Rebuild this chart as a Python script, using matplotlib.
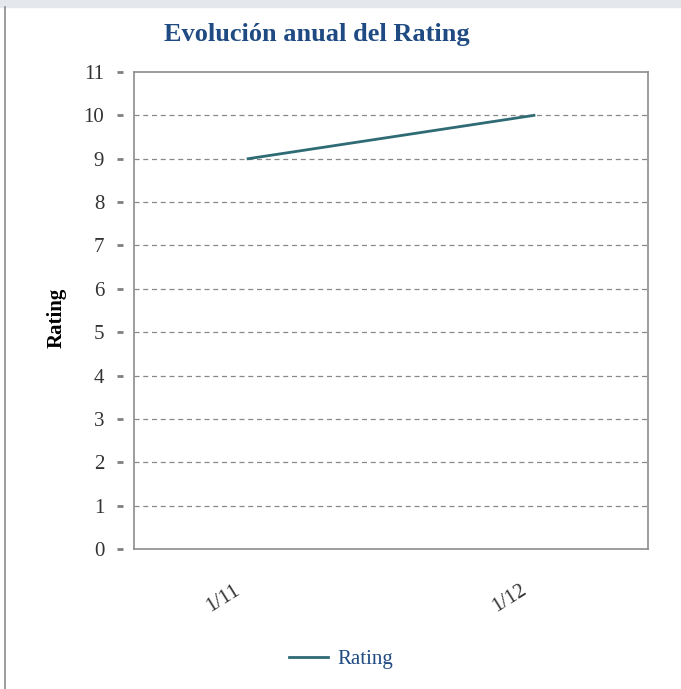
import matplotlib.pyplot as plt
from matplotlib.transforms import blended_transform_factory, ScaledTranslation
from matplotlib.patches import Rectangle
from matplotlib.lines import Line2D

plt.rcParams['font.family'] = ['Liberation Serif', 'DejaVu Serif']

periods = ['1/11', '1/12']
rating = [9, 10]
yticks = list(range(0, 12))

line_col = '#2e6b74'
title_col = '#1f4b82'

fig = plt.figure(figsize=(6.81, 6.89), dpi=100)
# top band and left border of the panel
fig.patches.append(Rectangle((0, 1 - 7/689), 1, 7/689, transform=fig.transFigure,
                             color='#e4e8ec', zorder=0))
fig.add_artist(Line2D([4.5/681, 4.5/681], [0, 1 - 7/689], transform=fig.transFigure,
                      color='#8a8a8a', lw=1.2))

ax = fig.add_axes([134/681, 1 - 549/689, 514/681, 477/689])
x = range(len(periods))
ax.plot(x, rating, color=line_col, lw=2, label='Rating')

ax.set_xlim(-0.399, 1.399)
ax.set_ylim(0, 11)
ax.set_yticks(yticks)
ax.set_xticks(list(x))
ax.set_xticklabels(periods, rotation=32, ha='center', va='center', rotation_mode='anchor')
ax.tick_params(axis='y', length=0, pad=21.5, labelsize=15, labelcolor='#333333')
ax.tick_params(axis='x', length=0, pad=35.5, labelsize=15, labelcolor='#333333')
for lab in ax.get_xticklabels():
    lab.set_transform(lab.get_transform() + ScaledTranslation(-0.25, 0, fig.dpi_scale_trans))

for yv in yticks[1:-1]:
    ax.axhline(yv, color='#888888', lw=0.9, ls=(0, (4, 3)), zorder=0)

# detached tick dashes
tr = blended_transform_factory(ax.transAxes, ax.transData)
for yv in yticks:
    ax.plot([-17/514, -11/514], [yv, yv], transform=tr, color='#808080', lw=2,
            clip_on=False, solid_capstyle='butt')

for s in ax.spines.values():
    s.set_color('#8c8c8c')
    s.set_linewidth(1.2)

ax.set_ylabel('Rating', fontsize=15, fontweight='bold')
ax.yaxis.set_label_coords(-(134 - 67)/514, 0.485)
fig.text(317/681, 1 - 35/689, 'Evolución anual del Rating', ha='center', va='center',
         fontsize=19, fontweight='bold', color=title_col)

leg = fig.legend(loc='center', bbox_to_anchor=(341/681, 1 - 659/689), frameon=False,
                 fontsize=15, handlelength=1.85, handletextpad=0.45)
for t in leg.get_texts():
    t.set_color(title_col)

fig.savefig('out.png', dpi=100)
